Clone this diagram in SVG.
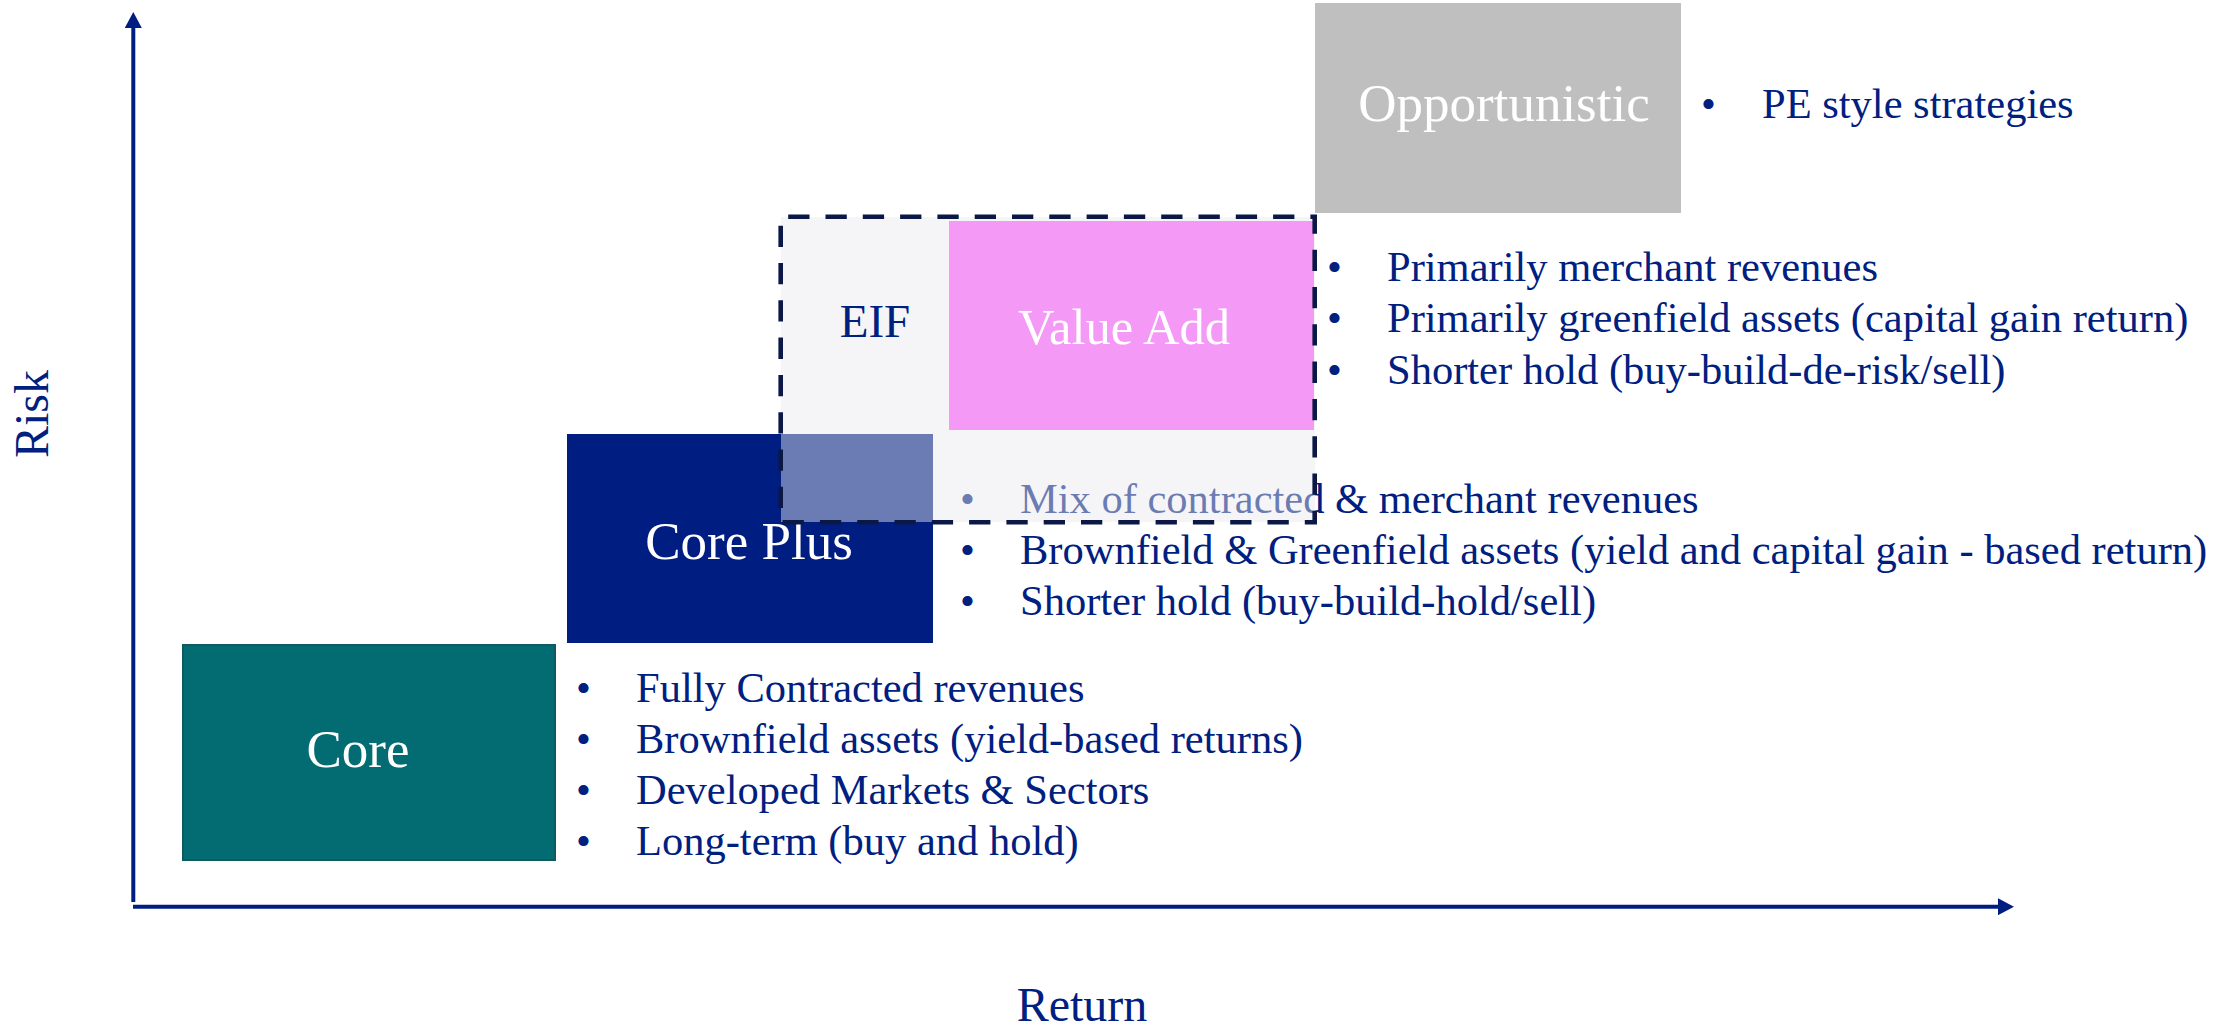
<svg xmlns="http://www.w3.org/2000/svg" width="2237" height="1027" viewBox="0 0 2237 1027">
<style>
text { font-family: "Liberation Serif", "Times New Roman", serif; }
.lbl { font-size: 53px; fill: #FFFFFF; text-anchor: middle; }
.bul { font-size: 42.5px; fill: #00207F; }
.axlbl { font-size: 48px; fill: #00207F; text-anchor: middle; }
.axis { stroke: #001E82; stroke-width: 4; fill: none; }
</style>
<defs>
<marker id="arr" viewBox="0 0 16 17" refX="0" refY="8.5" markerWidth="16" markerHeight="17" markerUnits="userSpaceOnUse" orient="auto">
<path d="M0,0 L16,8.5 L0,17 Z" fill="#001E82"/>
</marker>
</defs>
<rect width="2237" height="1027" fill="#FFFFFF"/>

<g id="connectors">
<line class="axis" x1="133.3" y1="902" x2="133.3" y2="28" marker-end="url(#arr)"/>
<line class="axis" x1="133" y1="906.7" x2="1998" y2="906.7" marker-end="url(#arr)"/>
</g>

<g id="axis-labels">
<text class="axlbl" transform="translate(48,414) rotate(-90)">Risk</text>
<text class="axlbl" x="1082" y="1021">Return</text>
</g>

<g id="core">
<rect x="183" y="645" width="372" height="215" fill="#036C73" stroke="#0E5A60" stroke-width="2"/>
<text class="lbl" x="358" y="767">Core</text>
</g>
<g id="core-bullets">
<text class="bul"><tspan x="576" y="702">•</tspan><tspan x="636" y="702">Fully Contracted revenues</tspan></text>
<text class="bul"><tspan x="576" y="753">•</tspan><tspan x="636" y="753">Brownfield assets (yield-based returns)</tspan></text>
<text class="bul"><tspan x="576" y="804">•</tspan><tspan x="636" y="804">Developed Markets &amp; Sectors</tspan></text>
<text class="bul"><tspan x="576" y="855">•</tspan><tspan x="636" y="855">Long-term (buy and hold)</tspan></text>
</g>

<g id="core-plus">
<rect x="567" y="434" width="366" height="209" fill="#001E82"/>
<text class="lbl" x="749" y="559">Core Plus</text>
</g>
<g id="core-plus-bullets">
<text class="bul"><tspan x="960" y="513">•</tspan><tspan x="1020" y="513">Mix of contracted &amp; merchant revenues</tspan></text>
<text class="bul"><tspan x="960" y="564">•</tspan><tspan x="1020" y="564">Brownfield &amp; Greenfield assets (yield and capital gain - based return)</tspan></text>
<text class="bul"><tspan x="960" y="615">•</tspan><tspan x="1020" y="615">Shorter hold (buy-build-hold/sell)</tspan></text>
</g>

<g id="eif">
<rect x="781" y="217" width="534" height="305" fill="rgb(233,233,240)" fill-opacity="0.46"/>
</g>

<g id="value-add">
<rect x="949" y="221" width="365" height="209" fill="#F49AF6"/>
<text class="lbl" x="1124" y="344" style="font-size:50.5px">Value Add</text>
</g>

<g id="eif-frame">
<rect x="780.7" y="216.7" width="534" height="305.5" fill="none" stroke="#0B1845" stroke-width="4.6" stroke-dasharray="21.3 16" stroke-dashoffset="29.8"/>
<text x="875" y="337" style="font-size:47px; fill:#00207F; text-anchor:middle">EIF</text>
</g>
<g id="value-add-bullets">
<text class="bul"><tspan x="1327" y="281">•</tspan><tspan x="1387" y="281">Primarily merchant revenues</tspan></text>
<text class="bul"><tspan x="1327" y="332">•</tspan><tspan x="1387" y="332">Primarily greenfield assets (capital gain return)</tspan></text>
<text class="bul"><tspan x="1327" y="384">•</tspan><tspan x="1387" y="384">Shorter hold (buy-build-de-risk/sell)</tspan></text>
</g>

<g id="opportunistic">
<rect x="1315" y="3" width="366" height="210" fill="#BFBFBF"/>
<text class="lbl" x="1504" y="121">Opportunistic</text>
</g>
<g id="opportunistic-bullets">
<text class="bul"><tspan x="1701" y="118">•</tspan><tspan x="1762" y="118">PE style strategies</tspan></text>
</g>
</svg>
